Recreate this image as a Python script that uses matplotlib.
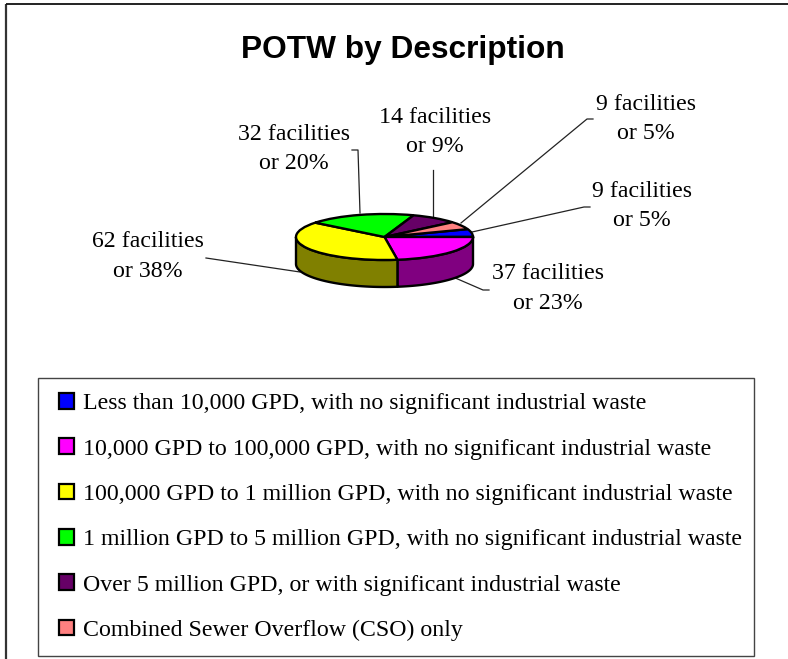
import numpy as np
import matplotlib
matplotlib.use("Agg")
import matplotlib.pyplot as plt
from matplotlib.lines import Line2D
from matplotlib.patches import Rectangle

categories = [
    "Less than 10,000 GPD, with no significant industrial waste",
    "10,000 GPD to 100,000 GPD, with no significant industrial waste",
    "100,000 GPD to 1 million GPD, with no significant industrial waste",
    "1 million GPD to 5 million GPD, with no significant industrial waste",
    "Over 5 million GPD, or with significant industrial waste",
    "Combined Sewer Overflow (CSO) only",
]
facilities = [9, 37, 62, 32, 14, 9]
percents = [5, 23, 38, 20, 9, 5]
top_colors = ["#0000FF", "#FF00FF", "#FFFF00", "#00FF00", "#660066", "#FF8080"]
side_colors = ["#000080", "#800080", "#808000", "#008000", "#330033", "#804040"]

W, H = 788, 659
FS = 17.2
plt.rcParams["font.family"] = ["Liberation Serif", "DejaVu Serif"]
fig = plt.figure(figsize=(W / 100, H / 100), dpi=100, facecolor="white")

page = fig.add_axes([0, 0, 1, 1])
page.set_xlim(0, W)
page.set_ylim(H, 0)
page.axis("off")

# chart frame: open at the right and bottom edges of the picture
page.plot([6, 6], [H, 4], color="#333333", lw=1.6, solid_capstyle="butt")
page.plot([6, W], [4, 4], color="#111111", lw=1.3, solid_capstyle="butt")

page.text(402.5, 50, "POTW by Description", family="Liberation Sans",
          weight="bold", fontsize=22.8, ha="center", va="center", color="black")

# pie, squashed into an ellipse, with a side wall below it
CX0, CX1, CY0, CY1 = 296, 473, 214, 260
DEPTH = 27 / ((CY1 - CY0) / 2)
START = 20
pie_ax = fig.add_axes([CX0 / W, 1 - CY1 / H, (CX1 - CX0) / W, (CY1 - CY0) / H])
pie_ax.patch.set_alpha(0)

angles = START - np.cumsum([0] + facilities) / sum(facilities) * 360
for a0, a1, col in zip(angles[:-1], angles[1:], side_colors):
    # keep only the part of the wedge on the front half of the ellipse
    lo, hi = max(a1, -180), min(a0, 0)
    if lo >= hi:
        continue
    t = np.radians(np.linspace(hi, lo, 80))
    x, y = np.cos(t), np.sin(t)
    pie_ax.fill(np.r_[x, x[::-1]], np.r_[y, y[::-1] - DEPTH], facecolor=col,
                edgecolor="black", lw=1.7, clip_on=False, zorder=1, joinstyle="round")

wedges, _ = pie_ax.pie(facilities, colors=top_colors, startangle=START, counterclock=False,
                       wedgeprops=dict(edgecolor="black", linewidth=1.7, zorder=2))
for w in wedges:
    w.set_clip_on(False)
pie_ax.set_aspect("auto")
pie_ax.set_xlim(-1, 1)
pie_ax.set_ylim(-1, 1)
pie_ax.axis("off")

# data labels and leader lines, in picture pixels (same order as the values)
label_xy = [(642, 206), (548, 288.5), (148, 256.5), (294, 149), (435, 132), (646, 119)]
leaders = [
    [(590, 207), (584, 207), (472, 232)],
    [(489, 290), (483, 290), (453, 277)],
    [(206, 258), (300, 272)],
    [(352, 150), (358, 150), (360, 213)],
    [(433, 170), (433, 217)],
    [(593, 119), (587, 119), (461, 223)],
]
for n, p, (x, y), path in zip(facilities, percents, label_xy, leaders):
    page.text(x, y, f"{n} facilities\nor {p}%", fontsize=FS, ha="center", va="center",
              multialignment="center", linespacing=1.56, color="black", zorder=5)
    xs, ys = zip(*path)
    page.add_line(Line2D(xs, ys, color="#222222", lw=0.9, zorder=0.5))

# legend box
page.add_patch(Rectangle((38, 378), 716, 278, facecolor="white", edgecolor="#444444", lw=1.0, zorder=0.2))
leg = fig.legend(wedges, categories, loc="upper left",
                 bbox_to_anchor=(59 / W, 1 - 393 / H),
                 borderaxespad=0, fontsize=FS, frameon=False, borderpad=0,
                 handlelength=0.63, handleheight=0.63, handletextpad=0.38,
                 labelspacing=1.01)
for h in leg.legend_handles:
    h.set_edgecolor("black")
    h.set_linewidth(1.6)

fig.savefig("out.png", dpi=100, facecolor="white")
